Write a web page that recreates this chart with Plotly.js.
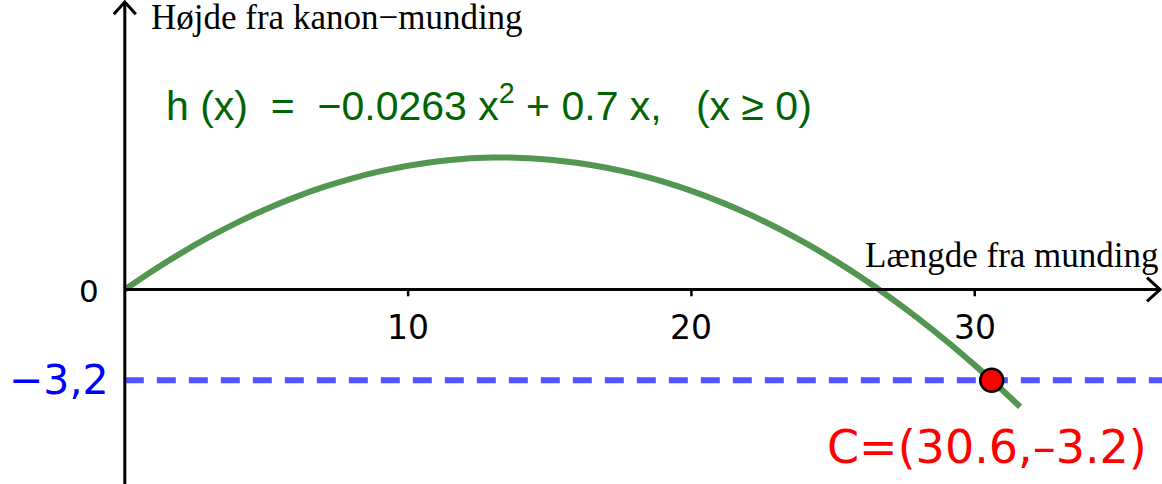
<!DOCTYPE html>
<html>
<head>
<meta charset="utf-8">
<script src="https://cdn.plot.ly/plotly-3.0.1.min.js"></script>
<style>html,body{margin:0;padding:0;background:#fff;}#chart{width:1162px;height:484px;}</style>
</head>
<body>
<div id="chart"></div>
<script>
// Curve h(x)
const curveX = [0, 1, 2, 3, 4, 5, 6, 7, 8, 9, 10, 11, 12, 13, 13.3, 14, 15, 16, 17, 18, 19, 20, 21, 22, 23, 24, 25, 26, 27, 28, 29, 30, 30.6, 31, 31.6];
const curveY = [0, 0.674, 1.295, 1.863, 2.379, 2.843, 3.253, 3.611, 3.917, 4.170, 4.370, 4.518, 4.613, 4.655, 4.658, 4.645, 4.583, 4.467, 4.299, 4.079, 3.806, 3.480, 3.102, 2.671, 2.187, 1.651, 1.063, 0.421, -0.273, -1.019, -1.818, -2.670, -3.207, -3.574, -4.14];
// Point C
const pointX = [30.6];
const pointY = [-3.2];
const pointLabel = "C=(30.6,\u20133.2)";
// Horizontal level
const levelY = -3.2;
const levelLabel = "\u22123,2";
// Axis ticks
const tickVals = [10, 20, 30];
const tickText = ["10", "20", "30"];
const xTitle = "Længde fra munding";
const yTitle = "Højde fra kanon\u2212munding";
const formula = "h\u00a0(x)\u00a0\u00a0=\u00a0\u00a0\u22120.0263\u00a0x<sup>2</sup>\u00a0+\u00a00.7\u00a0x,\u00a0\u00a0\u00a0(x\u00a0\u2265\u00a00)";

const xr = [-4.405, 36.61];
const yr = [-6.866, 10.219];
const pxu = 28.33;

const traces = [
  {x: [0, xr[1]], y: [levelY, levelY], mode: 'lines', line: {color: 'rgb(82,82,255)', width: 6, dash: '19px,13px'}, hoverinfo: 'skip'},
  {x: curveX, y: curveY, mode: 'lines', line: {color: 'rgb(82,150,82)', width: 6, shape: 'spline'}, hoverinfo: 'skip'},
  {x: pointX, y: pointY, mode: 'markers', marker: {color: '#ff0000', size: 23, line: {color: '#000', width: 2.5}}, hoverinfo: 'skip'}
];

const shapes = [];
// axes
shapes.push({type: 'line', x0: 0, x1: 36.52, y0: 0, y1: 0, line: {color: '#000', width: 3}});
shapes.push({type: 'line', x0: 0, x1: 0, y0: yr[0], y1: 10.13, line: {color: '#000', width: 3}});
// arrowheads
shapes.push({type: 'path', path: 'M 36.08 0.42 L 36.54 0 L 36.08 -0.42', line: {color: '#000', width: 3}});
shapes.push({type: 'path', path: 'M -0.39 9.72 L 0 10.15 L 0.39 9.72', line: {color: '#000', width: 3}});
// ticks
tickVals.forEach(v => shapes.push({type: 'line', x0: v, x1: v, y0: 0, y1: -0.24, line: {color: '#000', width: 2.5}}));

const annotations = [];
tickVals.forEach((v, i) => annotations.push({x: v, y: -1.33, text: tickText[i], showarrow: false, xanchor: 'center', yanchor: 'middle', font: {family: 'DejaVu Sans', size: 33, color: '#000'}}));
annotations.push({x: -1.26, y: -0.05, text: '0', showarrow: false, xanchor: 'center', yanchor: 'middle', font: {family: 'DejaVu Sans', size: 31, color: '#000'}});
annotations.push({x: -2.32, y: -3.2, text: levelLabel, showarrow: false, xanchor: 'center', yanchor: 'middle', font: {family: 'DejaVu Sans', size: 41, color: '#0000ff'}});
annotations.push({x: 30.42, y: -5.55, text: pointLabel, showarrow: false, xanchor: 'center', yanchor: 'middle', font: {family: 'DejaVu Sans', size: 46, color: '#ff0000'}});
annotations.push({x: (149 - 124.8) / pxu, y: (289.5 - 17) / pxu, text: yTitle, showarrow: false, xanchor: 'left', yanchor: 'middle', font: {family: 'Liberation Serif', size: 35, color: '#000'}});
annotations.push({x: (1161 - 124.8) / pxu, y: (289.5 - 256) / pxu, text: xTitle, showarrow: false, xanchor: 'right', yanchor: 'middle', font: {family: 'Liberation Serif', size: 35, color: '#000'}});
annotations.push({x: (164 - 124.8) / pxu, y: (289.5 - 103) / pxu, text: formula, showarrow: false, xanchor: 'left', yanchor: 'middle', font: {family: 'Liberation Sans', size: 41, color: '#006400'}});

const layout = {
  width: 1162, height: 484,
  margin: {l: 0, r: 0, t: 0, b: 0, pad: 0},
  paper_bgcolor: '#fff', plot_bgcolor: '#fff',
  showlegend: false,
  xaxis: {range: xr, visible: false, fixedrange: true},
  yaxis: {range: yr, visible: false, fixedrange: true},
  shapes: shapes,
  annotations: annotations
};

Plotly.newPlot('chart', traces, layout, {staticPlot: true, displayModeBar: false});
</script>
</body>
</html>
